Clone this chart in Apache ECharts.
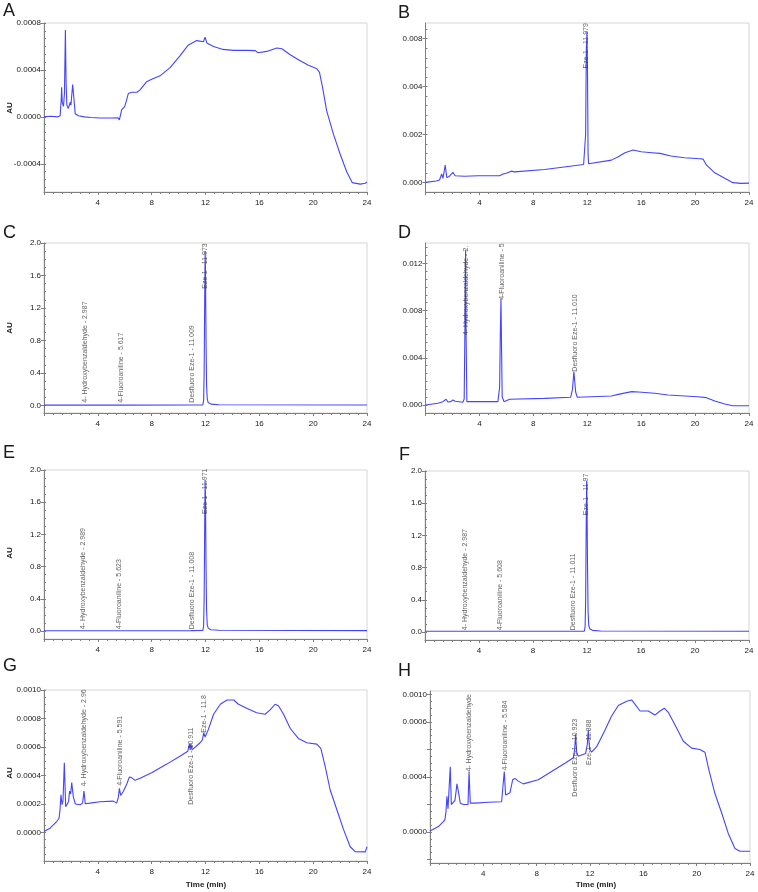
<!DOCTYPE html>
<html><head><meta charset="utf-8">
<script src="https://cdn.jsdelivr.net/npm/echarts@6/dist/echarts.min.js"></script>
<style>html,body{margin:0;padding:0;background:#fff}#c{width:758px;height:892px}</style>
</head><body><div id="c"></div>
<script>
// ---------- DATA ----------
const xTickLabels = ['4','8','12','16','20','24'];

const traceA = [[0,0],[0.5,0.000005],[1.0,0],[1.2,0.00001],[1.28,0.00015],[1.31,0.000253],[1.36,0.00012],[1.45,0.00009],[1.52,0.0002],[1.59,0.00074],[1.64,0.0003],[1.7,0.0001],[1.8,0.00007],[1.95,0.000125],[2.0,0.0001],[2.13,0.000276],[2.25,0.00012],[2.32,0.000026],[2.55,0.00001],[3.0,0],[3.5,-0.000005],[4.16,-0.00001],[5.0,-0.00001],[5.5,-0.000008],[5.6,-0.000026],[5.77,0.00006],[6.0,0.00009],[6.15,0.00015],[6.27,0.0002],[6.5,0.00021],[6.9,0.00021],[7.14,0.00023],[7.63,0.0003],[8.0,0.00032],[8.62,0.00035],[9.37,0.00042],[10.1,0.00052],[10.7,0.00061],[11.35,0.00065],[11.85,0.00064],[11.97,0.00068],[12.1,0.00063],[12.6,0.0006],[13.3,0.000575],[14.1,0.000567],[15.1,0.000567],[15.7,0.000565],[15.9,0.000547],[16.55,0.000558],[17.3,0.000587],[17.67,0.00058],[18.3,0.00053],[19.0,0.00048],[19.65,0.00044],[20.27,0.00041],[20.47,0.00038],[20.7,0.00025],[21.0,0.000054],[21.5,-0.000145],[22.0,-0.000316],[22.5,-0.00047],[22.9,-0.00056],[23.5,-0.000573],[23.87,-0.000565],[24,-0.000555]];

const traceB = [[0,0],[0.8,0.00006],[1.04,0.0001],[1.15,0.00012],[1.2,0.00035],[1.3,0.00017],[1.46,0.00072],[1.58,0.0002],[1.78,0.00026],[2.03,0.00042],[2.2,0.00028],[2.9,0.00026],[3.9,0.00028],[5.5,0.00028],[5.57,0.00021],[5.74,0.00035],[6.0,0.00038],[6.36,0.00047],[6.6,0.00044],[8.84,0.00054],[11.73,0.00075],[11.82,0.00072],[11.88,0.002],[11.93,0.0055],[11.979,0.0063],[12.02,0.0045],[12.06,0.0012],[12.1,0.00078],[12.18,0.00079],[13.8,0.00093],[14.3,0.00107],[14.8,0.00124],[15.4,0.00135],[16.0,0.00128],[16.8,0.00124],[17.4,0.00121],[18.2,0.0011],[19.2,0.00103],[20.35,0.00099],[20.6,0.00097],[20.85,0.00072],[21.46,0.0004],[22.2,0.00017],[22.8,-0.00001],[23.4,-0.00004],[24,-0.00003]];

const traceC = [[0,0.003],[2.9,0.003],[2.99,0.007],[3.08,0.003],[5.55,0.003],[5.62,0.006],[5.7,0.003],[10.95,0.004],[11.01,0.008],[11.08,0.004],[11.8,0.005],[11.86,0.06],[11.9,0.4],[11.94,1.3],[11.973,1.9],[12.0,1.65],[12.04,0.8],[12.08,0.25],[12.13,0.08],[12.2,0.035],[12.4,0.015],[13.0,0.008],[24,0.004]];

const traceD = [[0,0],[0.92,0.00014],[1.29,0.00028],[1.4,0.00023],[1.53,0.00048],[1.66,0.00025],[1.86,0.00028],[2.03,0.00042],[2.2,0.00031],[2.77,0.00023],[2.87,0.0005],[2.92,0.006],[2.975,0.0131],[3.01,0.006],[3.07,0.00028],[3.27,0.00028],[5.37,0.00028],[5.5,0.0015],[5.55,0.006],[5.6,0.009],[5.64,0.005],[5.69,0.0007],[5.82,0.00028],[6.24,0.00048],[8.84,0.00056],[10.77,0.00065],[10.9,0.0013],[11.01,0.0028],[11.14,0.0011],[11.26,0.00065],[13.79,0.00076],[14.3,0.0009],[15.3,0.00113],[15.8,0.0011],[17.0,0.00099],[18.0,0.00085],[20.2,0.0007],[20.84,0.00062],[21.46,0.00034],[22.2,0.00008],[22.8,-0.00006],[24,-0.00006]];

const traceE = [[0,0.003],[2.9,0.003],[2.99,0.006],[3.08,0.003],[5.55,0.003],[5.62,0.006],[5.7,0.003],[10.95,0.004],[11.01,0.007],[11.08,0.004],[11.8,0.005],[11.86,0.06],[11.9,0.4],[11.94,1.3],[11.971,1.88],[12.0,1.63],[12.04,0.8],[12.08,0.25],[12.13,0.08],[12.2,0.035],[12.4,0.015],[13.0,0.008],[24,0.004]];

const traceF = [[0,0.008],[2.9,0.008],[2.99,0.012],[3.08,0.008],[5.55,0.008],[5.61,0.011],[5.7,0.008],[10.95,0.008],[11.01,0.011],[11.08,0.008],[11.8,0.01],[11.86,0.06],[11.9,0.4],[11.94,1.3],[11.974,1.88],[12.0,1.63],[12.04,0.8],[12.08,0.25],[12.13,0.08],[12.2,0.04],[12.4,0.02],[13.0,0.012],[24,0.008]];

const traceG = [[0,0.000007],[0.45,0.00003],[0.94,0.000077],[1.12,0.0001],[1.19,0.00016],[1.26,0.000265],[1.34,0.000195],[1.41,0.00022],[1.51,0.00049],[1.61,0.00018],[1.73,0.0002],[1.83,0.00022],[1.9,0.00029],[1.98,0.00027],[2.06,0.00035],[2.18,0.00025],[2.33,0.0002],[2.68,0.000195],[2.87,0.000206],[2.97,0.00029],[3.07,0.000202],[3.42,0.000206],[4.16,0.000216],[5.15,0.00022],[5.4,0.000206],[5.53,0.00025],[5.6,0.00031],[5.7,0.00026],[5.9,0.00029],[6.15,0.00034],[6.35,0.00039],[6.5,0.000385],[6.77,0.000366],[7.14,0.00038],[8.0,0.00042],[9.12,0.00048],[10.1,0.000535],[10.68,0.00057],[10.8,0.00062],[10.86,0.00058],[10.91,0.000624],[11.0,0.00058],[11.1,0.00059],[11.6,0.00063],[11.77,0.00065],[11.87,0.0007],[11.97,0.00067],[12.2,0.00072],[12.6,0.00083],[13.1,0.0009],[13.6,0.00093],[14.1,0.00093],[14.45,0.0009],[15.1,0.00087],[15.8,0.00084],[16.43,0.00083],[16.8,0.00086],[17.17,0.0009],[17.42,0.00089],[17.8,0.00083],[18.3,0.00073],[18.9,0.00066],[19.53,0.00063],[20.27,0.00062],[20.57,0.00059],[20.9,0.00046],[21.26,0.0003],[21.76,0.00016],[22.26,0.00002],[22.75,-0.0001],[23.12,-0.000134],[23.87,-0.000136],[24,-0.0001]];

const traceH = [[0,0.000007],[0.63,0.00004],[1.0,0.000075],[1.12,0.00009],[1.2,0.00015],[1.27,0.00026],[1.35,0.00017],[1.45,0.00018],[1.52,0.000475],[1.6,0.0002],[1.75,0.0002],[1.87,0.00023],[1.95,0.00029],[2.02,0.00035],[2.12,0.0003],[2.27,0.00021],[2.5,0.0002],[2.85,0.0002],[2.93,0.00044],[3.02,0.00021],[3.37,0.00021],[4.37,0.000216],[5.37,0.00022],[5.5,0.00022],[5.57,0.00044],[5.67,0.00027],[6.0,0.000286],[6.2,0.00038],[6.37,0.00039],[6.62,0.00037],[7.0,0.00035],[8.12,0.00038],[9.12,0.00044],[10.12,0.0005],[10.75,0.00054],[10.85,0.0006],[10.92,0.00071],[11.0,0.00058],[11.12,0.00055],[11.67,0.00057],[11.8,0.00064],[11.87,0.00074],[11.97,0.0006],[12.12,0.00058],[12.5,0.00062],[13.12,0.00074],[13.6,0.00084],[14.12,0.00092],[14.75,0.00095],[15.12,0.00096],[15.37,0.00093],[15.75,0.00088],[16.37,0.00088],[16.87,0.00085],[17.25,0.00088],[17.57,0.0009],[17.87,0.00087],[18.37,0.00078],[19.0,0.00066],[19.62,0.00061],[20.25,0.0006],[20.62,0.00058],[20.92,0.00045],[21.37,0.00028],[21.87,0.00014],[22.37,-0.00001],[22.87,-0.00012],[23.25,-0.00014],[24,-0.00014]];

// y tick values and their printed labels
const yValsA = [-0.0004,0,0.0004,0.0008];       const yTextA = ['-0.0004','0.0000','0.0004','0.0008'];
const yValsB = [0,0.002,0.004,0.006];            const yTextB = ['0.000','0.002','0.004','0.008'];
const yValsC = [0,0.4,0.8,1.2,1.6,2.0];          const yTextC = ['0.0','0.4','0.8','1.2','1.6','2.0'];
const yValsD = [0,0.004,0.008,0.012];            const yTextD = ['0.000','0.004','0.008','0.012'];
const yValsG = [0,0.0002,0.0004,0.0006,0.0008,0.001]; const yTextG = ['0.0000','0.0002','0.0004','0.0006','0.0008','0.0010'];
const yValsH = [0,0.0004,0.0008,0.001];          const yTextH = ['0.0000','0.0004','0.0006','0.0010'];
const yMajorH = [-0.0002,0,0.0002,0.0004,0.0006,0.0008,0.001];

// peak annotations: retention time, base height of label (axis units), text
const peakTimeB = [11.92]; const peakBaseB = [0.00475]; const peakTextB = ['Eze-1 - 11.979'];
const peakTimeC = [3.05,5.7,11.0,12.0]; const peakBaseC = [0.033,0.033,0.033,1.437];
const peakTextC = ['4- Hydroxybenzaldehyde - 2.987','4-Fluoroaniline - 5.617','Desfluoro Eze-1 - 11.009','Eze-1 - 11.973'];
const peakTimeD = [2.98,5.66,11.06]; const peakBaseD = [0.0059,0.0089,0.00282];
const peakTextD = ['4- Hydroxybenzaldehyde - 2.','4-Fluoroaniline - 5','Desfluoro Eze-1 - 11.010'];
const peakTimeE = [2.92,5.6,10.98,11.97]; const peakBaseE = [0.021,0.021,0.021,1.453];
const peakTextE = ['4- Hydroxybenzaldehyde - 2.989','4-Fluoroaniline - 5.623','Desfluoro Eze-1 - 11.008','Eze-1 - 11.971'];
const peakTimeF = [2.94,5.57,11.0,11.95]; const peakBaseF = [0.021,0.021,0.021,1.45];
const peakTextF = ['4- Hydroxybenzaldehyde - 2.987','4-Fluoroaniline - 5.608','Desfluoro Eze-1 - 11.011','Eze-1 - 11.97'];
const peakTimeG = [2.97,5.65,10.9,11.9]; const peakBaseG = [0.000322,0.000327,0.000194,0.0007];
const peakTextG = ['4- Hydroxybenzaldehyde - 2.96','4-Fluoroaniline - 5.591','Desfluoro Eze-1 - 10.911','Eze-1 - 11.8'];
const peakTimeH = [2.95,5.6,10.9,11.93]; const peakBaseH = [0.000439,0.000446,0.000257,0.000487];
const peakTextH = ['4- Hydroxybenzaldehyde','4-Fluoroaniline - 5.584','Desfluoro Eze-1 - 10.923','Eze-1 - 11.888'];

// ---------- LAYOUT ----------
const FONT = '"Liberation Sans", Arial, sans-serif';
const panels = [
  {L:'A', g:{left:44,top:23,width:323,height:169}, min:-0.00064, max:0.0008, vals:yValsA, text:yTextA, major:yValsA, minor:0.0004/6, tr:traceA, lt:{x:3,y:2}, au:108},
  {L:'B', g:{left:425.5,top:23,width:323.5,height:169}, min:-0.0004, max:0.00665, vals:yValsB, text:yTextB, major:yValsB, minor:0.0004, tr:traceB, pk:[peakTimeB,peakBaseB,peakTextB], lt:{x:398,y:4}},
  {L:'C', g:{left:44,top:243,width:323,height:170}, min:-0.094, max:2.0, vals:yValsC, text:yTextC, major:yValsC, minor:0.1, tr:traceC, pk:[peakTimeC,peakBaseC,peakTextC], lt:{x:3,y:224}, au:328},
  {L:'D', g:{left:425.5,top:243,width:323.5,height:170}, min:-0.00068, max:0.01372, vals:yValsD, text:yTextD, major:yValsD, minor:0.004/6, tr:traceD, pk:[peakTimeD,peakBaseD,peakTextD], lt:{x:398,y:224}},
  {L:'E', g:{left:44,top:470,width:323,height:169}, min:-0.1, max:2.0, vals:yValsC, text:yTextC, major:yValsC, minor:0.1, tr:traceE, pk:[peakTimeE,peakBaseE,peakTextE], lt:{x:3,y:444}, au:553},
  {L:'F', g:{left:425,top:471,width:324,height:169}, min:-0.1, max:2.0, vals:yValsC, text:yTextC, major:yValsC, minor:0.1, tr:traceF, pk:[peakTimeF,peakBaseF,peakTextF], lt:{x:399,y:446}},
  {L:'G', g:{left:44,top:690,width:323,height:171}, min:-0.0002, max:0.001, vals:yValsG, text:yTextG, major:yValsG, minor:0.00005, tr:traceG, pk:[peakTimeG,peakBaseG,peakTextG], lt:{x:3,y:657}, au:773, time:206},
  {L:'H', g:{left:430,top:691,width:320,height:172}, min:-0.000225, max:0.001025, vals:yValsH, text:yTextH, major:yMajorH, minor:0.00005, tr:traceH, pk:[peakTimeH,peakBaseH,peakTextH], lt:{x:398,y:662}, time:596}
];

const AXIS_C = '#7f7f7f', TXT = '#1a1a1a', LINE = '#4444ff';
const grid = [], xAxis = [], yAxis = [], series = [], graphic = [];

panels.forEach((p, i) => {
  grid.push(Object.assign({show:true, borderColor:'#d6d6d6', borderWidth:1, backgroundColor:'transparent', outerBoundsMode:'none', containLabel:false}, p.g));
  xAxis.push({type:'value', gridIndex:i, min:0, max:24, interval:4,
    axisLine:{show:true, onZero:false, lineStyle:{color:AXIS_C, width:1}},
    axisTick:{show:true, length:3, lineStyle:{color:AXIS_C}},
    minorTick:{show:true, splitNumber:6, length:2, lineStyle:{color:AXIS_C}},
    splitLine:{show:false}, minorSplitLine:{show:false},
    axisLabel:{show:true, margin:7, fontSize:8, color:TXT, fontFamily:FONT, showMinLabel:false,
      formatter: v => xTickLabels.indexOf(String(v)) >= 0 ? String(v) : ''}
  });
  const minorVals = [];
  for (let k = Math.ceil(p.min / p.minor - 1e-9); k * p.minor <= p.max + 1e-12; k++) minorVals.push(+(k * p.minor).toPrecision(10));
  const primary = yAxis.length;
  yAxis.push({type:'value', gridIndex:i, min:p.min, max:p.max,
    axisLine:{show:true, onZero:false, lineStyle:{color:AXIS_C, width:1}},
    axisTick:{show:true, length:3, customValues:p.major, lineStyle:{color:AXIS_C}},
    splitLine:{show:false},
    axisLabel:{show:true, margin:3, fontSize:8, color:TXT, fontFamily:FONT, customValues:p.vals,
      formatter: v => { for (let j = 0; j < p.vals.length; j++) if (Math.abs(v - p.vals[j]) < 1e-9) return p.text[j]; return ''; }}
  });
  yAxis.push({type:'value', gridIndex:i, min:p.min, max:p.max,
    axisLine:{show:false}, axisLabel:{show:false}, splitLine:{show:false},
    axisTick:{show:true, length:2, customValues:minorVals, lineStyle:{color:AXIS_C}}
  });
  series.push({type:'line', xAxisIndex:i, yAxisIndex:primary, data:p.tr, showSymbol:false, symbol:'none',
    lineStyle:{color:LINE, width:1.1}, silent:true, animation:false, z:2});
  if (p.pk) {
    const [tt, bb, ss] = p.pk;
    series.push({type:'scatter', xAxisIndex:i, yAxisIndex:primary, symbolSize:0.1, itemStyle:{color:'rgba(0,0,0,0)'},
      silent:true, animation:false, z:5, clip:false,
      data: tt.map((t, j) => ({value:[t, bb[j]], name:ss[j]})),
      label:{show:true, rotate:90, position:'top', distance:0, align:'left', verticalAlign:'middle',
        formatter: d => d.name, fontSize:7, color:'#383838', fontFamily:FONT}
    });
  }
  graphic.push({type:'text', x:p.lt.x, y:p.lt.y, style:{text:p.L, font:'18px ' + FONT, fill:TXT}});
  if (p.au) graphic.push({type:'text', x:10, y:p.au, rotation:Math.PI/2,
    style:{text:'AU', font:'bold 8px ' + FONT, fill:TXT, align:'center', verticalAlign:'middle'}});
  if (p.time) graphic.push({type:'text', x:p.time, y:885,
    style:{text:'Time (min)', font:'bold 8px ' + FONT, fill:TXT, align:'center', verticalAlign:'middle'}});
});

const chart = echarts.init(document.getElementById('c'), null, {renderer:'canvas'});
chart.setOption({animation:false, backgroundColor:'#fff', grid, xAxis, yAxis, series, graphic});
</script></body></html>
